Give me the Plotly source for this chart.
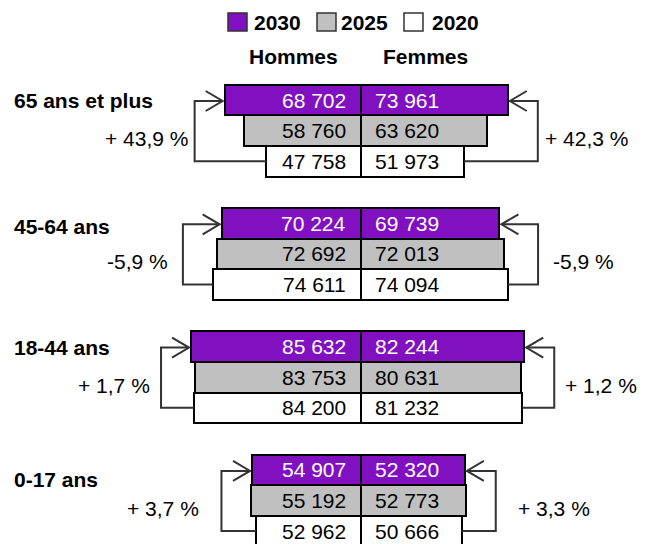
import plotly.graph_objects as go

# ---- data -------------------------------------------------------------
groups = ["65 ans et plus", "45-64 ans", "18-44 ans", "0-17 ans"]
years = ["2030", "2025", "2020"]

hommes = [
    [68702, 58760, 47758],
    [70224, 72692, 74611],
    [85632, 83753, 84200],
    [54907, 55192, 52962],
]
femmes = [
    [73961, 63620, 51973],
    [69739, 72013, 74094],
    [82244, 80631, 81232],
    [52320, 52773, 50666],
]
evol_hommes = ["+ 43,9 %", "-5,9 %", "+ 1,7 %", "+ 3,7 %"]
evol_femmes = ["+ 42,3 %", "-5,9 %", "+ 1,2 %", "+ 3,3 %"]

# ---- layout constants (in page pixels) ----------------------------------
W, H = 647, 544
PAGE_OFF = 8                  # default body margin of the html page
CENTER_PX = 361
K = 503.8                     # persons per pixel
ROW0, GROUP_STEP, ROW_H = 100, 123.3, 30.6
COLORS = {"2030": "#8111C0", "2025": "#C0C0C0", "2020": "#FFFFFF"}
TEXT_COLORS = {"2030": "white", "2025": "black", "2020": "black"}
ARROW_GAP = 30                # px beyond widest bar
LABEL_GAP = [5, 13, 9, 20]    # px between arrow and percent label
GROUP_LABEL_DY = [0, 3, 1, 10]
LINE_COLOR = "#333333"
FONT = "Liberation Sans, Arial, sans-serif"
FS = 21


def row_y(g, r):
    return ROW0 + GROUP_STEP * g + ROW_H * r


def px(x):
    return (x - PAGE_OFF) / W


def py(y):
    return 1 - (y - PAGE_OFF) / H


def fmt(v):
    return f"{v:,}".replace(",", " ")


fig = go.Figure()

for r, year in enumerate(years):
    xs, ys = [], []
    for g in range(len(groups)):
        xs += [-hommes[g][r], femmes[g][r]]
        ys += [row_y(g, r), row_y(g, r)]
    fig.add_trace(go.Bar(
        x=xs, y=ys, orientation="h", width=ROW_H, base=0,
        marker=dict(color=COLORS[year], line=dict(color="black", width=2)),
        name=year, showlegend=False, hoverinfo="skip",
    ))

annotations = []
shapes = []

for g, label in enumerate(groups):
    # values
    for r, year in enumerate(years):
        y = row_y(g, r)
        annotations.append(dict(x=0, y=y, text=fmt(hommes[g][r]), xanchor="right",
                                yanchor="middle", xshift=-13, showarrow=False,
                                font=dict(size=FS, color=TEXT_COLORS[year])))
        annotations.append(dict(x=0, y=y, text=fmt(femmes[g][r]), xanchor="left",
                                yanchor="middle", xshift=12, showarrow=False,
                                font=dict(size=FS, color=TEXT_COLORS[year])))
    # group label
    annotations.append(dict(x=px(12), xref="paper", y=row_y(g, 0) + GROUP_LABEL_DY[g],
                            text=f"<b>{label}</b>", xanchor="left", yanchor="middle",
                            showarrow=False, font=dict(size=FS, color="black")))

    y_top = row_y(g, 0) + 1
    y_bot = row_y(g, 2)
    y_mid = row_y(g, 1) + 8

    # left arrow (hommes)
    xv = -(max(hommes[g]) + ARROW_GAP * K)
    tip = -hommes[g][0] - 2 * K
    shapes.append(dict(type="path", line=dict(color=LINE_COLOR, width=2),
                       path=f"M{-hommes[g][2]},{y_bot} L{xv},{y_bot} L{xv},{y_top} L{tip},{y_top}"))
    shapes.append(dict(type="path", line=dict(color=LINE_COLOR, width=2),
                       path=f"M{tip - 17 * K},{y_top - 10} L{tip},{y_top} L{tip - 17 * K},{y_top + 10}"))
    annotations.append(dict(x=xv - LABEL_GAP[g] * K, y=y_mid, text=evol_hommes[g],
                            xanchor="right", yanchor="middle", showarrow=False,
                            font=dict(size=FS, color="black")))

    # right arrow (femmes)
    xv = max(femmes[g]) + ARROW_GAP * K
    tip = femmes[g][0] + 2 * K
    shapes.append(dict(type="path", line=dict(color=LINE_COLOR, width=2),
                       path=f"M{femmes[g][2]},{y_bot} L{xv},{y_bot} L{xv},{y_top} L{tip},{y_top}"))
    shapes.append(dict(type="path", line=dict(color=LINE_COLOR, width=2),
                       path=f"M{tip + 17 * K},{y_top - 10} L{tip},{y_top} L{tip + 17 * K},{y_top + 10}"))
    annotations.append(dict(x=xv + LABEL_GAP[g] * K, y=y_mid, text=evol_femmes[g],
                            xanchor="left", yanchor="middle", showarrow=False,
                            font=dict(size=FS, color="black")))

# legend, drawn by hand to get the large squares
legend_pos = [(228, 252), (317, 339), (404, 430)]
for year, (sx, tx) in zip(years, legend_pos):
    shapes.append(dict(type="rect", xref="paper", yref="paper",
                       x0=px(sx), x1=px(sx + 19), y0=py(31), y1=py(13),
                       fillcolor=COLORS[year], line=dict(color="#333333", width=1.5)))
    annotations.append(dict(x=px(tx), y=py(22), xref="paper", yref="paper",
                            text=f"<b>{year}</b>", xanchor="left", yanchor="middle",
                            showarrow=False, font=dict(size=FS, color="black")))

annotations.append(dict(x=px(293), y=py(56), xref="paper", yref="paper",
                        text="<b>Hommes</b>", yanchor="middle", showarrow=False,
                        font=dict(size=FS, color="black")))
annotations.append(dict(x=px(425), y=py(56), xref="paper", yref="paper",
                        text="<b>Femmes</b>", yanchor="middle", showarrow=False,
                        font=dict(size=FS, color="black")))

fig.update_layout(
    width=W, height=H,
    margin=dict(l=0, r=0, t=0, b=0),
    paper_bgcolor="white", plot_bgcolor="white",
    font=dict(family=FONT),
    barmode="overlay", bargap=0,
    xaxis=dict(range=[(PAGE_OFF - CENTER_PX) * K, (PAGE_OFF + W - CENTER_PX) * K],
               visible=False, fixedrange=True),
    yaxis=dict(range=[H + PAGE_OFF, PAGE_OFF], visible=False, fixedrange=True),
    annotations=annotations,
    shapes=shapes,
)

fig.write_html("out.html")
